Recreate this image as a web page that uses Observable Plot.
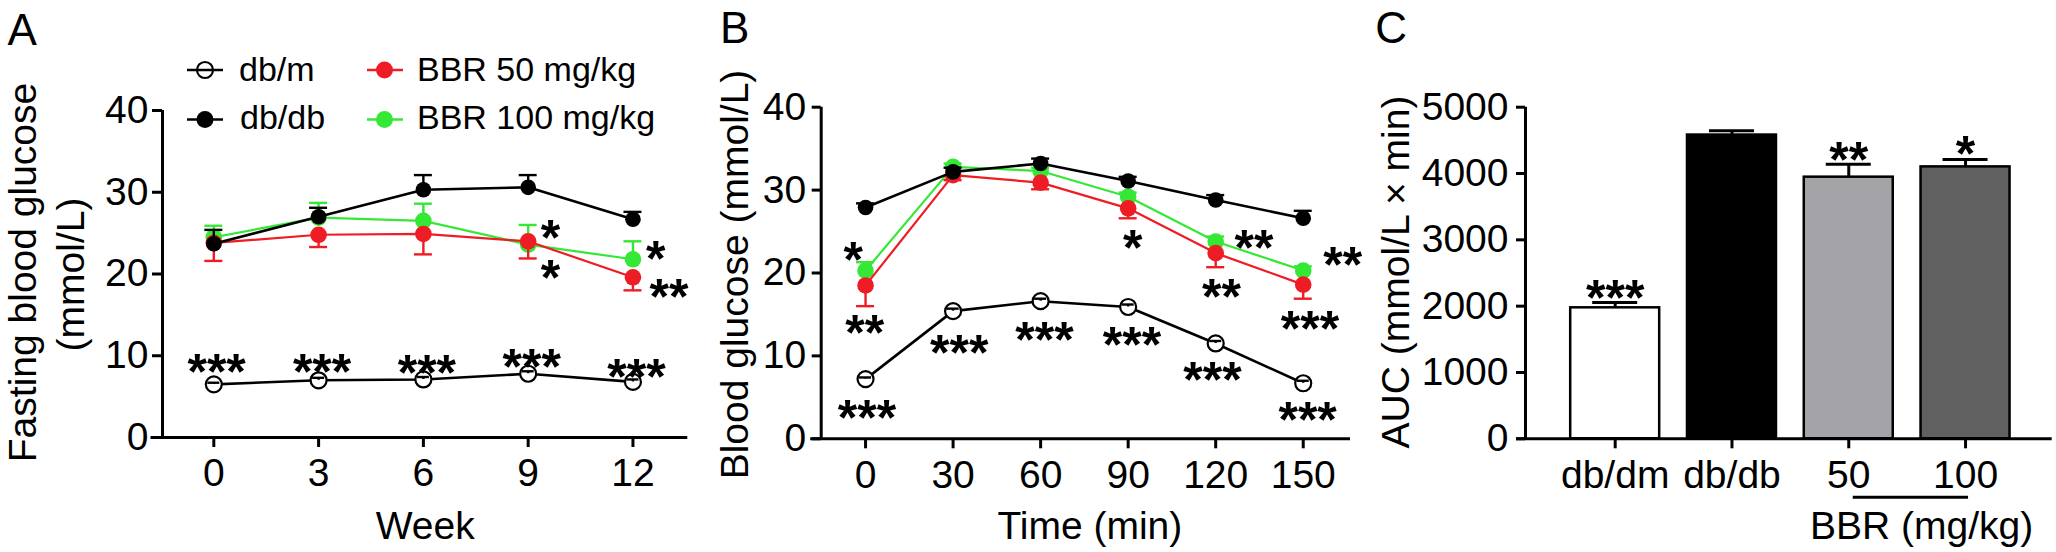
<!DOCTYPE html>
<html><head><meta charset="utf-8">
<script src="https://cdn.jsdelivr.net/npm/d3@7"></script>
<script src="https://cdn.jsdelivr.net/npm/@observablehq/plot@0.6"></script>
<style>
html,body{margin:0;padding:0;background:#fff;}
#fig{position:relative;width:2056px;height:552px;overflow:hidden;font-family:"Liberation Sans",Arial,sans-serif;}
#fig svg{position:absolute;top:0;}
</style></head><body><div id="fig"></div>
<script>
const FONT = "Liberation Sans, Arial, sans-serif";
// ---------- Panel A data ----------
const weeks = [0, 3, 6, 9, 12];
const yTicksA = [0, 10, 20, 30, 40];
const A_dbm = [6.5, 7.0, 7.1, 7.8, 6.8];
const A_dbm_sem = [0.2, 0.3, 0.3, 0.3, 0.3];
const A_dbdb = [23.7, 27.0, 30.3, 30.6, 26.7];
const A_dbdb_sem = [1.7, 1.1, 1.8, 1.5, 0.9];
const A_bbr50 = [23.8, 24.8, 24.9, 24.0, 19.6];
const A_bbr50_sem = [2.2, 1.5, 2.5, 2.1, 1.6];
const A_bbr100 = [24.5, 26.9, 26.5, 23.6, 21.8];
const A_bbr100_sem = [1.4, 1.8, 2.1, 2.4, 2.2];
const A_starX = [0.08, 3.1, 6.1, 9.1, 12.1, 9.64, 9.64, 12.65, 13.03];
const A_starY = [9.5, 9.5, 9.4, 10.1, 8.9, 25.9, 21.0, 23.3, 18.6];
const A_starT = ["***", "***", "***", "***", "***", "*", "*", "*", "**"];
// ---------- Panel B data ----------
const times = [0, 30, 60, 90, 120, 150];
const yTicksB = [0, 10, 20, 30, 40];
const B_dbm = [7.2, 15.4, 16.6, 15.9, 11.5, 6.7];
const B_dbm_sem = [0.2, 0.3, 0.3, 0.3, 0.3, 0.3];
const B_dbdb = [27.9, 32.2, 33.2, 31.1, 28.8, 26.6];
const B_dbdb_sem = [0.5, 0.5, 0.6, 0.5, 0.6, 0.9];
const B_bbr50 = [18.5, 31.8, 30.9, 27.8, 22.4, 18.6];
const B_bbr50_sem = [2.5, 0.6, 0.8, 1.2, 1.7, 1.7];
const B_bbr100 = [20.3, 32.8, 32.3, 29.2, 23.8, 20.3];
const B_bbr100_sem = [1.0, 0.4, 0.4, 0.5, 0.6, 0.5];
const B_starX = [-4.2, -0.3, 0.5, 32.1, 61.3, 91.6, 91.3, 133.1, 122, 118.9, 163.5, 152.3, 151.5];
const B_starY = [23, 14.2, 3.9, 11.8, 13.4, 24.5, 12.8, 24.5, 18.6, 8.6, 22.4, 14.7, 3.7];
const B_starT = ["*", "**", "***", "***", "***", "*", "***", "**", "**", "***", "**", "***", "***"];
// ---------- Panel C data ----------
const groupsC = ["db/dm", "db/db", "50", "100"];
const aucC = [1975, 4580, 3945, 4100];
const aucC_sem = [80, 65, 195, 110];
const fillC = ["#ffffff", "#000000", "#a4a4a8", "#606060"];
const yTicksC = [0, 1000, 2000, 3000, 4000, 5000];
const C_starG = [0, 2, 3];
const C_starY = [2304, 4384, 4475];
const C_starT = ["***", "**", "*"];
const bbrGroups = ["50", "100"];
// ---------- series style ----------
const seriesNames = ["db/m", "db/db", "BBR 50 mg/kg", "BBR 100 mg/kg"];
const seriesColors = ["#000000", "#000000", "#ee1c24", "#35e835"];

const baseStyle = {fontFamily: FONT, fontSize: "39px", color: "black", background: "transparent", overflow: "visible"};

function series(xs, means, sems, dir, color, open) {
  const rows = xs.map((x, i) => ({x, m: means[i], e: means[i] + dir * sems[i]}));
  const cap = open ? 6 : 9;
  const sw = color === "#000000" ? 2.6 : 2.2;
  const err = [
    Plot.ruleX(rows, {x: "x", y1: "m", y2: "e", stroke: color, strokeWidth: 2.4}),
    Plot.ruleY(rows, {y: "e", x1: "x", x2: "x", insetLeft: -cap, insetRight: -cap, stroke: color, strokeWidth: 2.4})
  ];
  const line = Plot.line(rows, {x: "x", y: "m", stroke: color, strokeWidth: sw});
  const dot = open
    ? Plot.dot(rows, {x: "x", y: "m", r: 8, fill: "white", stroke: "black", strokeWidth: 2.2})
    : Plot.dot(rows, {x: "x", y: "m", r: color === "#000000" ? 7.8 : 8.3, fill: color, stroke: "none"});
  return open ? [line, dot, ...err] : [line, ...err, dot];
}
function stars(xs, ys, ts) {
  const rows = xs.map((x, i) => ({x, y: ys[i], t: ts[i]}));
  return Plot.text(rows, {x: "x", y: "y", text: "t", fontSize: 50, fontWeight: "bold", lineAnchor: "middle", dy: 13, fill: "black"});
}
function yTitle(label, dx, dy = 0) {
  return Plot.text([label], {frameAnchor: "left", textAnchor: "middle", rotate: -90, lineAnchor: "bottom", dx, dy, fontSize: 39});
}

const fig = document.getElementById("fig");

// ---------- Panel A ----------
const xDomA = [-1.469, 13.57];
const pA = Plot.plot({
  width: 705, height: 552, marginLeft: 162, marginRight: 17.7, marginTop: 110, marginBottom: 115,
  x: {domain: xDomA}, y: {domain: [0, 40]}, style: baseStyle,
  marks: [
    Plot.ruleY([0], {strokeWidth: 3, insetLeft: -11.5}),
    Plot.ruleX([xDomA[0]], {strokeWidth: 3}),
    Plot.axisX({ticks: weeks, tickSize: 10, tickPadding: 11, fontSize: 39, strokeWidth: 3, label: null, tickFormat: d => String(d)}),
    Plot.axisY({ticks: yTicksA, tickSize: 10, tickPadding: 4, fontSize: 39, strokeWidth: 3, label: null, tickFormat: d => String(d)}),
    ...series(weeks, A_dbm, A_dbm_sem, 1, seriesColors[0], true),
    ...series(weeks, A_bbr100, A_bbr100_sem, 1, seriesColors[3], false),
    ...series(weeks, A_bbr50, A_bbr50_sem, -1, seriesColors[2], false),
    ...series(weeks, A_dbdb, A_dbdb_sem, 1, seriesColors[1], false),
    stars(A_starX, A_starY, A_starT),
    Plot.text(["Week"], {frameAnchor: "bottom", lineAnchor: "bottom", dy: 101, fontSize: 39}),
    yTitle("Fasting blood glucose", -126.6, -1.5),
    yTitle("(mmol/L)", -79, 0.5),
    Plot.text(["A"], {frameAnchor: "top-left", textAnchor: "start", lineAnchor: "bottom", dx: -155, dy: -66, fontSize: 44})
  ]
});
pA.style.left = "0px";
fig.appendChild(pA);

// ---------- Panel B ----------
const xDomB = [-15.2, 166.2];
const pB = Plot.plot({
  width: 660, height: 552, marginLeft: 115.7, marginRight: 15, marginTop: 106.7, marginBottom: 113.7,
  x: {domain: xDomB}, y: {domain: [0, 40]}, style: baseStyle,
  marks: [
    Plot.ruleY([0], {strokeWidth: 3, insetLeft: -10.5}),
    Plot.ruleX([xDomB[0]], {strokeWidth: 3}),
    Plot.axisX({ticks: times, tickSize: 10, tickPadding: 11, fontSize: 39, strokeWidth: 3, label: null, tickFormat: d => String(d)}),
    Plot.axisY({ticks: yTicksB, tickSize: 9, tickPadding: 6, fontSize: 39, strokeWidth: 3, label: null, tickFormat: d => String(d)}),
    ...series(times, B_dbm, B_dbm_sem, 1, seriesColors[0], true),
    ...series(times, B_bbr100, B_bbr100_sem, 1, seriesColors[3], false),
    ...series(times, B_bbr50, B_bbr50_sem, -1, seriesColors[2], false),
    ...series(times, B_dbdb, B_dbdb_sem, 1, seriesColors[1], false),
    stars(B_starX, B_starY, B_starT),
    Plot.text(["Time (min)"], {frameAnchor: "bottom", lineAnchor: "bottom", dx: 4, dy: 99.7, fontSize: 39}),
    yTitle("Blood glucose (mmol/L)", -73.3, 1.5),
    Plot.text(["B"], {frameAnchor: "top-left", textAnchor: "start", lineAnchor: "bottom", dx: -101.2, dy: -64.2, fontSize: 44})
  ]
});
pB.style.left = "705px";
fig.appendChild(pB);

// ---------- Panel C ----------
const xDomC = [-0.768, 3.742];
const half = 0.381;
const barRows = groupsC.map((g, i) => ({i, g, v: aucC[i], e: aucC[i] + aucC_sem[i], f: fillC[i]}));
const starRowsC = C_starG.map((i, k) => ({x: i, y: C_starY[k], t: C_starT[k]}));
const bbrIdx = bbrGroups.map(g => groupsC.indexOf(g));
const pC = Plot.plot({
  width: 691, height: 552, marginLeft: 160, marginRight: 4.3, marginTop: 106.7, marginBottom: 113.7,
  x: {domain: xDomC}, y: {domain: [0, 5000]}, style: baseStyle,
  marks: [
    Plot.ruleX(barRows, {x: "i", y1: "v", y2: "e", strokeWidth: 3}),
    Plot.ruleY(barRows, {y: "e", x1: "i", x2: "i", insetLeft: -22.5, insetRight: -22.5, strokeWidth: 3}),
    Plot.rectY(barRows, {x1: d => d.i - half, x2: d => d.i + half, y: "v", fill: "f", stroke: "black", strokeWidth: 2.5}),
    Plot.ruleY([0], {strokeWidth: 3, insetLeft: -9}),
    Plot.ruleX([xDomC[0]], {strokeWidth: 3}),
    Plot.axisX({ticks: groupsC.map((g, i) => i), tickSize: 10, tickPadding: 11, fontSize: 39, strokeWidth: 3, label: null, tickFormat: i => groupsC[i]}),
    Plot.axisY({ticks: yTicksC, tickSize: 9, tickPadding: 8, fontSize: 39, strokeWidth: 3, label: null, tickFormat: d => String(d)}),
    Plot.text(starRowsC, {x: "x", y: "y", text: "t", fontSize: 50, fontWeight: "bold", lineAnchor: "middle", dy: 13}),
    Plot.ruleY([0], {x1: [bbrIdx[0]], x2: [bbrIdx[1]], dy: 58.4, insetLeft: 4.5, insetRight: -3, strokeWidth: 3}),
    Plot.text(["BBR (mg/kg)"], {x: [d3.mean(bbrIdx)], frameAnchor: "bottom", lineAnchor: "bottom", dx: 14.4, dy: 99.7, fontSize: 39}),
    yTitle("AUC (mmol/L × min)", -116.4, -1),
    Plot.text(["C"], {frameAnchor: "top-left", textAnchor: "start", lineAnchor: "bottom", dx: -150.2, dy: -64.2, fontSize: 44})
  ]
});
pC.style.left = "1365px";
fig.appendChild(pC);

// ---------- Legend (panel A) ----------
const NS = "http://www.w3.org/2000/svg";
const leg = document.createElementNS(NS, "svg");
leg.setAttribute("width", 705); leg.setAttribute("height", 150);
leg.style.left = "0px";
const legPos = [
  {lx: 187, cx: 205, tx: 239, cy: 70, by: 80.7},
  {lx: 187, cx: 205, tx: 240, cy: 119.6, by: 129},
  {lx: 367, cx: 384.5, tx: 417, cy: 70, by: 80.7},
  {lx: 367, cx: 384.5, tx: 417, cy: 119.6, by: 129}
];
seriesNames.forEach((name, i) => {
  const p = legPos[i], col = seriesColors[i];
  const ln = document.createElementNS(NS, "line");
  ln.setAttribute("x1", p.lx); ln.setAttribute("x2", p.lx + 36);
  ln.setAttribute("y1", p.cy); ln.setAttribute("y2", p.cy);
  ln.setAttribute("stroke", col); ln.setAttribute("stroke-width", 2.5);
  const c = document.createElementNS(NS, "circle");
  c.setAttribute("cx", p.cx); c.setAttribute("cy", p.cy);
  if (i === 0) { c.setAttribute("r", 8); c.setAttribute("fill", "none"); c.setAttribute("stroke", "black"); c.setAttribute("stroke-width", 2.2); }
  else { c.setAttribute("r", 8.5); c.setAttribute("fill", col); }
  const t = document.createElementNS(NS, "text");
  t.setAttribute("x", p.tx); t.setAttribute("y", p.by);
  t.setAttribute("font-size", 34); t.setAttribute("font-family", FONT);
  t.textContent = name;
  leg.append(ln, c, t);
});
fig.appendChild(leg);
</script>
</body></html>
